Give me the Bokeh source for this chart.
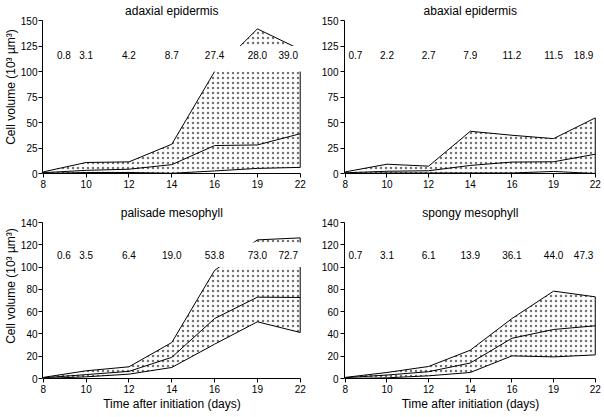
from bokeh.plotting import figure
from bokeh.layouts import column, row
from bokeh.models import Range1d, FixedTicker
from bokeh.core.properties import value
from bokeh.embed import file_html
from bokeh.resources import INLINE

# ---------------- data ----------------
days = ["8", "10", "12", "14", "16", "19", "22"]

titles = ["adaxial epidermis", "abaxial epidermis",
          "palisade mesophyll", "spongy mesophyll"]

adaxial_mean = [0.8, 3.1, 4.2, 8.7, 27.4, 28.0, 39.0]
adaxial_upper = [1.6, 10.8, 11.4, 28.7, 100.0, 141.8, 121.6]
adaxial_lower = [0.0, 1.0, 1.0, 0.2, 2.5, 5.0, 6.0]

abaxial_mean = [0.7, 2.2, 2.7, 7.9, 11.2, 11.5, 18.9]
abaxial_upper = [1.6, 9.1, 7.2, 41.4, 37.5, 34.2, 54.5]
abaxial_lower = [0.0, 0.5, 0.5, 0.5, 0.5, 2.0, 0.0]

palisade_mean = [0.6, 3.5, 6.4, 19.0, 53.8, 73.0, 72.7]
palisade_upper = [1.0, 6.9, 10.5, 32.3, 97.0, 124.4, 126.2]
palisade_lower = [0.0, 1.5, 3.9, 9.9, 30.8, 50.9, 41.3]

spongy_mean = [0.7, 3.1, 6.1, 13.9, 36.1, 44.0, 47.3]
spongy_upper = [1.0, 5.4, 10.8, 25.4, 53.8, 78.4, 73.3]
spongy_lower = [0.0, 0.6, 2.4, 5.4, 20.3, 19.4, 21.2]

top_yticks = [0, 25, 50, 75, 100, 125, 150]
bottom_yticks = [0, 20, 40, 60, 80, 100, 120, 140]

y_title = "Cell volume (10\u00b3 \u00b5m\u00b3)"
x_title = "Time after initiation (days)"

FONT = "Liberation Sans"


def make_panel(title, mean, upper, lower, yticks, left, top, band_top, label_y):
    width = 318 if left else 286
    mb_left = 40 if left else 22
    mb_right = 17 if left else 8
    if top:
        height, mb_bottom = 193, 20
        frame_h, axis_h, title_off = 173, 153, 10
    else:
        height, mb_bottom = 224, 39
        frame_h, axis_h, title_off = 185, 156, 19
    ymax = yticks[-1]
    ppu = axis_h / ymax
    y_end = frame_h / ppu

    p = figure(width=width, height=height, output_backend="svg",
               toolbar_location=None, x_range=Range1d(-0.02, 6.03),
               y_range=Range1d(0, y_end),
               min_border_left=mb_left, min_border_right=mb_right,
               min_border_top=0, min_border_bottom=mb_bottom)
    p.outline_line_color = None
    p.xgrid.visible = False
    p.ygrid.visible = False
    p.background_fill_color = "white"

    idx = list(range(len(days)))
    xs = idx + idx[::-1]
    ys = list(upper) + list(lower)[::-1]
    p.patch(xs, ys, fill_color="white", fill_alpha=0.0, line_color="black",
            line_width=1, hatch_pattern="dot", hatch_scale=5,
            hatch_color="black", hatch_alpha=0.55)
    p.line(idx, mean, line_color="black", line_width=1)

    # white band for the mean labels
    p.quad(left=[-0.02], right=[6.03], bottom=[100], top=[band_top],
           fill_color="white", line_color=None)

    lx = [float(i) for i in idx]
    lx[0] += 0.48 if left else 0.24
    lx[-1] -= 0.28
    p.text(x=lx, y=[label_y] * len(idx), text=[f"{m:.1f}" for m in mean],
           text_font=value(FONT), text_font_size="10px", text_color="black",
           text_align="center", text_baseline="middle")

    p.text(x=[3], y=[y_end - title_off / ppu], text=[title],
           text_font=value(FONT), text_font_size="12px", text_color="black",
           text_align="center", text_baseline="middle")

    for ax in (p.xaxis, p.yaxis):
        ax.axis_line_color = "black"
        ax.major_tick_line_color = "black"
        ax.minor_tick_line_color = None
        ax.major_tick_in = 0
        ax.major_tick_out = 4
        ax.major_label_text_font = FONT
        ax.major_label_text_font_size = "10px"
        ax.major_label_text_color = "black"
        ax.major_label_standoff = 2
        ax.axis_label_text_font = FONT
        ax.axis_label_text_font_size = "12px"
        ax.axis_label_text_font_style = "normal"
        ax.axis_label_text_color = "black"

    p.xaxis.ticker = FixedTicker(ticks=idx)
    p.xaxis.major_label_overrides = {i: d for i, d in enumerate(days)}
    p.xaxis.bounds = (0, 6)
    p.yaxis.ticker = FixedTicker(ticks=yticks)
    p.yaxis.bounds = (0, ymax)
    if left:
        p.yaxis.axis_label = y_title
        p.yaxis.axis_label_standoff = 0
        p.yaxis.major_label_standoff = 1
    if not top:
        p.xaxis.axis_label = x_title
        p.xaxis.axis_label_standoff = 1
    return p


p1 = make_panel(titles[0], adaxial_mean, adaxial_upper, adaxial_lower,
                top_yticks, True, True, 125, 116)
p2 = make_panel(titles[1], abaxial_mean, abaxial_upper, abaxial_lower,
                top_yticks, False, True, 125, 116)
p3 = make_panel(titles[2], palisade_mean, palisade_upper, palisade_lower,
                bottom_yticks, True, False, 122, 110.7)
p4 = make_panel(titles[3], spongy_mean, spongy_upper, spongy_lower,
                bottom_yticks, False, False, 122, 110.7)

layout = column(row(p1, p2), row(p3, p4))
open("out.html", "w").write(file_html(layout, INLINE))
